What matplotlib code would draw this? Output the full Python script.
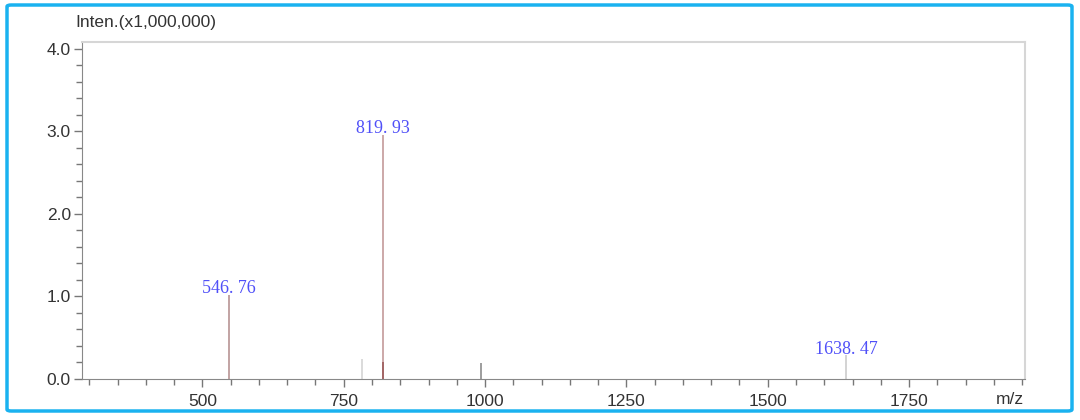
import matplotlib
matplotlib.use('Agg')
import matplotlib.pyplot as plt
from matplotlib.patches import FancyBboxPatch
from matplotlib.ticker import MultipleLocator

# peaks (m/z, intensity x1e6)
mz = [546.76, 783.0, 819.93, 819.93, 993.0, 1638.47]
inten = [1.02, 0.24, 2.96, 0.20, 0.19, 0.29]
peak_colors = ['#b89494', '#d4d4d4', '#c49a9a', '#9c5a5a', '#8c8c8c', '#cccccc']

label_mz = [546.76, 819.93, 1638.47]
label_int = [1.02, 2.96, 0.29]
label_txt = ['546. 76', '819. 93', '1638. 47']

xticks = [500, 750, 1000, 1250, 1500, 1750]
yticks = [0.0, 1.0, 2.0, 3.0, 4.0]

fig = plt.figure(figsize=(10.8, 4.2), dpi=100)
ax = fig.add_axes([82/1080, 1-379/420, (1025-82)/1080, (379-42)/420])

ax.vlines(mz, 0, inten, colors=peak_colors, linewidth=1.2)
for x, y, t in zip(label_mz, label_int, label_txt):
    ax.annotate(t, (x, y), xytext=(0, 1), textcoords='offset points',
                ha='center', va='baseline', color='#5050f8',
                fontsize=13, family='Liberation Serif')

ax.set_xlim(287, 1955)
ax.set_ylim(0, 4.08)
ax.set_xticks(xticks)
ax.set_xticklabels([str(v) for v in xticks])
ax.set_yticks(yticks)
ax.set_yticklabels(['%.1f' % v for v in yticks])
ax.xaxis.set_minor_locator(MultipleLocator(50))
ax.yaxis.set_minor_locator(MultipleLocator(0.2))
ax.tick_params(which='both', direction='out', colors='#777777', labelcolor='#333333',
               labelsize=12.5, width=1)
ax.tick_params(which='major', length=6)
ax.tick_params(which='minor', length=4)
ax.tick_params(axis='x', pad=5)
ax.tick_params(axis='y', pad=2)
for side in ['left', 'bottom']:
    ax.spines[side].set_color('#888888')
for side in ['top', 'right']:
    ax.spines[side].set_color('#d6d6d6')
    ax.spines[side].set_linewidth(1.5)

fig.text(75/1080, 1-23/420, 'Inten.(x1,000,000)', ha='left', va='center',
         fontsize=12.5, color='#333333', family='Liberation Sans')
fig.text(1010/1080, 1-400/420, 'm/z', ha='center', va='center',
         fontsize=12.5, color='#333333', family='Liberation Sans')
for lab in ax.get_xticklabels() + ax.get_yticklabels():
    lab.set_family('Liberation Sans')

border = FancyBboxPatch((7/1080, 1-411/420), (1065/1080), (406/420),
                        boxstyle='round,pad=0,rounding_size=0.004',
                        transform=fig.transFigure, fill=False,
                        edgecolor='#1ab2f0', linewidth=2.5)
fig.patches.append(border)

fig.savefig('out.png', dpi=100)
